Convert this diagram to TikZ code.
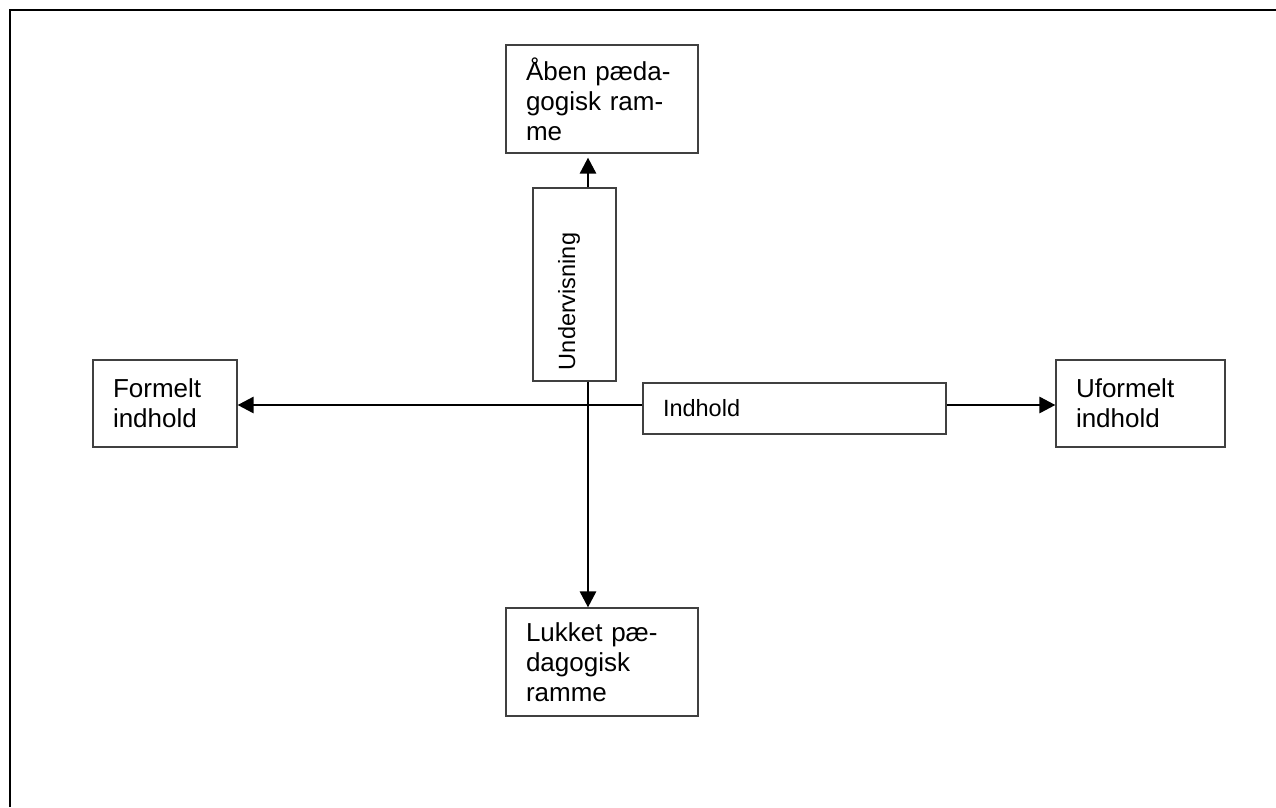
\documentclass[tikz,border=0pt]{standalone}
\usepackage{fontspec}
\setmainfont{Liberation Sans}
\usetikzlibrary{arrows.meta}
\definecolor{boksgraa}{HTML}{404040}

\begin{document}
\begin{tikzpicture}[x=1pt, y=-1pt,
		boks/.style={draw=boksgraa, line width=1.2pt, fill=white,
			inner xsep=20pt, inner ysep=0pt, align=left,
			font=\fontsize{26}{30}\selectfont},
		aksetekst/.style={boks, font=\fontsize{23.5}{28}\selectfont},
		pil/.style={line width=2.8pt, -{Triangle[length=16pt, width=16pt]}}]
	\useasboundingbox (0,0) rectangle (1276,807);
	\draw[line width=2.6pt] (10,807) -- (10,10) -- (1276,10);

	\node[boks, minimum height=108pt, text width=152pt] (aaben) at (602,99) {Åben pæda-\\gogisk ram-\\me};
	\node[boks, minimum height=108pt, text width=152pt] (lukket) at (602,662) {Lukket pæ-\\dagogisk\\ramme};
	\node[boks, minimum height=87pt, text width=104pt] (formelt) at (165,403.5) {Formelt\\indhold};
	\node[boks, minimum height=87pt, text width=129pt] (uformelt) at (1140.5,403.5) {Uformelt\\indhold};
	\node[aksetekst, minimum height=51pt, text width=263pt] (indhold) at (794.5,408.5) {Indhold};
	\node[aksetekst, rotate=90, inner xsep=11pt, minimum height=83pt, text width=171pt,
		text height=17pt, text depth=16pt] (underv) at (574.5,284.5) {Undervisning};

	\coordinate (kryds) at (588,405);
	\draw[pil, shorten >=4pt] (kryds |- underv.east) -- (kryds |- aaben.south);
	\draw[pil] (kryds |- underv.west) -- (kryds |- lukket.north);
	\draw[pil] (kryds -| indhold.west) -- (kryds -| formelt.east);
	\draw[pil] (kryds -| indhold.east) -- (kryds -| uformelt.west);
\end{tikzpicture}
\end{document}
